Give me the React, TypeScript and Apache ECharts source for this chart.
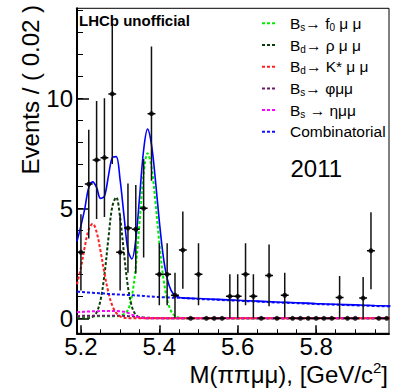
import React, { useEffect, useRef } from "react";
import * as echarts from "echarts";

// ---- data ----
const binCenters = [
  5.2, 5.22, 5.24, 5.26, 5.28, 5.3, 5.32, 5.34, 5.36, 5.38,
  5.4, 5.42, 5.44, 5.46, 5.48, 5.5, 5.52, 5.54, 5.56, 5.58,
  5.6, 5.62, 5.64, 5.66, 5.68, 5.7, 5.72, 5.74, 5.76, 5.78,
  5.8, 5.82, 5.84, 5.86, 5.88, 5.9, 5.92, 5.94, 5.96, 5.98,
];
const counts = [
  3.0, 6.1, 7.2, 7.3, 10.2, 3.0, 4.1, 4.05, 5.0, 9.3,
  2.0, 2.0, 1.05, 3.1, 0, 2.0, 0, 0, 0, 1.0,
  1.0, 2.0, 1.0, 0, 1.95, 0, 1.05, 0, 0, 0,
  0, 0, 0, 0.95, 0, 0, 0.92, 3.07, 0, 0,
];
const countErrors = [
  1.73, 2.47, 2.68, 2.7, 3.19, 1.73, 2.03, 2.01, 2.24, 3.05,
  1.41, 1.41, 1.02, 1.76, 0, 1.41, 0, 0, 0, 1.0,
  1.0, 1.41, 1.0, 0, 1.4, 0, 1.02, 0, 0, 0,
  0, 0, 0, 0.97, 0, 0, 0.96, 1.75, 0, 0,
];
const binHalfWidth = 0.01;

const curveX = [
  5.19, 5.2, 5.21, 5.22, 5.23, 5.24, 5.25, 5.26, 5.27, 5.28,
  5.29, 5.3, 5.31, 5.32, 5.33, 5.34, 5.35, 5.36, 5.37, 5.38,
  5.39, 5.4, 5.41, 5.42, 5.43, 5.44, 5.45, 5.46,
  5.5, 5.55, 5.6, 5.65, 5.7, 5.75, 5.8, 5.85, 5.9, 5.95, 5.99,
];
const fitTotal = [
  3.5, 4.2, 5.0, 5.95, 6.2, 5.95, 5.45, 5.55, 6.45, 7.3,
  7.35, 6.29, 4.65, 3.1, 2.7, 3.6, 5.59, 7.65, 8.6, 7.9,
  6.3, 4.42, 2.83, 1.81, 1.27, 1.04, 0.96, 0.93,
  0.9, 0.86, 0.82, 0.78, 0.74, 0.71, 0.67, 0.64, 0.61, 0.58, 0.56,
];
const sigF0 = [
  0.1, 0.1, 0.1, 0.1, 0.1, 0.1, 0.1, 0.1, 0.1, 0.1,
  0.1, 0.12, 0.2, 0.38, 1.0, 2.35, 4.43, 6.58, 7.5, 6.88,
  5.3, 3.44, 1.87, 0.86, 0.33, 0.11, 0.03, 0.01,
  0, 0, 0, 0, 0, 0, 0, 0, 0, 0, 0,
];
const sigRho = [
  0, 0, 0, 0.01, 0.07, 0.27, 0.82, 1.97, 3.61, 5.08,
  5.5, 4.58, 2.93, 1.43, 0.54, 0.16, 0.04, 0.01, 0, 0,
  0, 0, 0, 0, 0, 0, 0, 0,
  0, 0, 0, 0, 0, 0, 0, 0, 0, 0, 0,
];
const sigKstar = [
  1.55, 2.3, 3.26, 4.04, 4.3, 3.92, 3.06, 2.05, 1.18, 0.58,
  0.25, 0.09, 0.03, 0.01, 0, 0, 0, 0, 0, 0,
  0, 0, 0, 0, 0, 0, 0, 0,
  0, 0, 0, 0, 0, 0, 0, 0, 0, 0, 0,
];
const sigPhi = [
  0.1, 0.11, 0.12, 0.12, 0.12, 0.12, 0.12, 0.12, 0.12, 0.12,
  0.12, 0.12, 0.11, 0.1, 0.09, 0.07, 0.05, 0.04, 0.03, 0.02,
  0.01, 0.01, 0, 0, 0, 0, 0, 0,
  0, 0, 0, 0, 0, 0, 0, 0, 0, 0, 0,
];
const sigEta = [
  0.28, 0.29, 0.3, 0.31, 0.32, 0.32, 0.33, 0.33, 0.33, 0.33,
  0.33, 0.32, 0.3, 0.25, 0.17, 0.09, 0.04, 0.01, 0, 0,
  0, 0, 0, 0, 0, 0, 0, 0,
  0, 0, 0, 0, 0, 0, 0, 0, 0, 0, 0,
];
const combinatorial = [
  1.21, 1.2, 1.19, 1.17, 1.16, 1.15, 1.14, 1.13, 1.11, 1.1,
  1.09, 1.08, 1.07, 1.06, 1.05, 1.04, 1.03, 1.02, 1.0, 0.99,
  0.98, 0.97, 0.96, 0.95, 0.94, 0.93, 0.93, 0.92,
  0.88, 0.84, 0.8, 0.76, 0.72, 0.69, 0.65, 0.62, 0.59, 0.56, 0.54,
];

const xMajorTicks = [5.2, 5.4, 5.6, 5.8];
const xMinorTicks = [
  5.2, 5.25, 5.3, 5.35, 5.4, 5.45, 5.5, 5.55, 5.6, 5.65,
  5.7, 5.75, 5.8, 5.85, 5.9, 5.95,
];
const yMajorTicks = [0, 5, 10];
const yMinorTicks = [0, 1, 2, 3, 4, 5, 6, 7, 8, 9, 10, 11, 12, 13, 14];

const seriesNames = ["f0", "rho", "kstar", "phi", "eta", "Combinatorial"];
const legendLabels = [
  "B{sub|s}→ f{sub|0} μ μ",
  "B{sub|d}→ ρ μ μ",
  "B{sub|d}→ K* μ μ",
  "B{sub|s}→ φμμ",
  "B{sub|s} → ημμ",
  "Combinatorial",
];

const FONT = '"Liberation Sans", Arial, Helvetica, sans-serif';
const X_MIN = 5.19;
const X_MAX = 5.986;
const Y_MIN = -0.68;
const Y_MAX = 14.09;

function pair(xs: number[], ys: number[]) {
  return xs.map((x, i) => [x, ys[i]]);
}

function dashed(name: string, color: string, values: number[], z: number) {
  return {
    name,
    type: "line",
    data: pair(curveX, values),
    smooth: 0.35,
    symbol: "none",
    showSymbol: false,
    clip: true,
    z,
    lineStyle: { color, width: 2, type: [3, 2] },
    itemStyle: { color },
  };
}

export default function App() {
  const ref = useRef<HTMLDivElement>(null);

  useEffect(() => {
    if (!ref.current) return;
    const chart = echarts.init(ref.current, undefined, { renderer: "svg" });

    const option: any = {
      animation: false,
      backgroundColor: "#fff",
      grid: {
        left: 77,
        top: 8.3,
        width: 312,
        height: 325,
        show: true,
        borderColor: "#000",
        borderWidth: 1,
        backgroundColor: "transparent",
      },
      xAxis: [
        {
          type: "value",
          min: X_MIN,
          max: X_MAX,
          position: "bottom",
          axisLine: { show: true, onZero: false, lineStyle: { color: "#000", width: 2 } },
          axisTick: { show: true, inside: true, length: 8, customValues: xMajorTicks, lineStyle: { color: "#000", width: 1.5 } },
          axisLabel: {
            show: true,
            customValues: xMajorTicks,
            margin: 1,
            fontSize: 24,
            fontFamily: FONT,
            color: "#000",
            formatter: (v: number) => v.toFixed(1),
          },
          splitLine: { show: false },
        },
        {
          type: "value",
          min: X_MIN,
          max: X_MAX,
          position: "bottom",
          axisLine: { show: false, onZero: false },
          axisTick: { show: true, inside: true, length: 4, customValues: xMinorTicks, lineStyle: { color: "#000", width: 1 } },
          axisLabel: { show: false, customValues: xMinorTicks },
          splitLine: { show: false },
        },
      ],
      yAxis: [
        {
          type: "value",
          min: Y_MIN,
          max: Y_MAX,
          position: "left",
          axisLine: { show: true, onZero: false, lineStyle: { color: "#000", width: 2 } },
          axisTick: { show: true, inside: true, length: 12, customValues: yMajorTicks, lineStyle: { color: "#000", width: 1.5 } },
          axisLabel: {
            show: true,
            customValues: yMajorTicks,
            margin: 4,
            fontSize: 24,
            fontFamily: FONT,
            color: "#000",
          },
          splitLine: { show: false },
        },
        {
          type: "value",
          min: Y_MIN,
          max: Y_MAX,
          position: "left",
          axisLine: { show: false, onZero: false },
          axisTick: { show: true, inside: true, length: 6, customValues: yMinorTicks, lineStyle: { color: "#000", width: 1 } },
          axisLabel: { show: false, customValues: yMinorTicks },
          splitLine: { show: false },
        },
      ],
      legend: {
        data: seriesNames,
        orient: "vertical",
        left: 261,
        top: 14.3,
        padding: 0,
        itemWidth: 15,
        itemHeight: 10,
        itemGap: 3.7,
        selectedMode: false,
        itemStyle: { opacity: 0 },
        formatter: (n: string) => legendLabels[seriesNames.indexOf(n)],
        textStyle: {
          fontFamily: FONT,
          fontSize: 15.5,
          color: "#000",
          lineHeight: 18,
          padding: [0, 0, 0, 8],
          rich: {
            sub: { fontFamily: FONT, fontSize: 10, lineHeight: 10, verticalAlign: "bottom", color: "#000" },
          },
        },
      },
      graphic: [
        {
          type: "text",
          x: 79,
          y: 13,
          z: 100,
          style: { text: "LHCb unofficial", fontFamily: FONT, fontSize: 15, fontWeight: "bold", fill: "#000" },
        },
        {
          type: "text",
          x: 290.5,
          y: 168,
          z: 100,
          style: { text: "2011", fontFamily: FONT, fontSize: 24, fill: "#000", verticalAlign: "middle" },
        },
        {
          type: "text",
          x: 30,
          y: 5,
          rotation: Math.PI / 2,
          style: {
            text: "Events / ( 0.02 )",
            fontFamily: FONT,
            fontSize: 24,
            fill: "#000",
            align: "right",
            verticalAlign: "middle",
          },
        },
        {
          type: "text",
          x: 388,
          y: 374,
          style: {
            text: "M(ππμμ), [GeV/c{sup|2}]",
            fontFamily: FONT,
            fontSize: 24,
            lineHeight: 28,
            fill: "#000",
            align: "right",
            verticalAlign: "middle",
            rich: {
              sup: { fontFamily: FONT, fontSize: 15, lineHeight: 14, verticalAlign: "top", fill: "#000" },
            },
          },
        },
      ],
      series: [
        dashed("f0", "#00ee00", sigF0, 3),
        dashed("rho", "#0a3d0a", sigRho, 3),
        dashed("phi", "#6a1a6a", sigPhi, 3),
        dashed("eta", "#ff00ff", sigEta, 3),
        dashed("kstar", "#ff2020", sigKstar, 3),
        dashed("Combinatorial", "#1010ff", combinatorial, 3),
        {
          name: "total",
          type: "line",
          data: pair(curveX, fitTotal),
          smooth: 0.35,
          symbol: "none",
          showSymbol: false,
          clip: true,
          z: 4,
          lineStyle: { color: "#0000ff", width: 1.6 },
        },
        {
          name: "errors",
          type: "custom",
          clip: true,
          z: 5,
          data: binCenters.map((x, i) => [x, counts[i], countErrors[i], binHalfWidth]),
          renderItem: (_params: any, api: any) => {
            const x = api.value(0);
            const y = api.value(1);
            const e = api.value(2);
            const hw = api.value(3);
            const c = api.coord([x, y]);
            const l = api.coord([x - hw, y]);
            const r = api.coord([x + hw, y]);
            const children: any[] = [
              {
                type: "line",
                shape: { x1: l[0], y1: c[1], x2: r[0], y2: c[1] },
                style: { stroke: "#000", lineWidth: 1.5 },
              },
            ];
            if (e > 0) {
              const t = api.coord([x, y + e]);
              const b = api.coord([x, y - e]);
              children.push({
                type: "line",
                shape: { x1: c[0], y1: t[1], x2: c[0], y2: b[1] },
                style: { stroke: "#111", lineWidth: 1.5 },
              });
            }
            return { type: "group", children };
          },
        },
        {
          name: "data",
          type: "scatter",
          z: 6,
          symbol: "circle",
          symbolSize: 5,
          itemStyle: { color: "#000" },
          data: pair(binCenters, counts),
        },
      ],
    };

    chart.setOption(option);
    return () => chart.dispose();
  }, []);

  return (
    <div
      ref={ref}
      style={{ position: "absolute", left: 0, top: 0, width: 393, height: 390, background: "#fff" }}
    />
  );
}
